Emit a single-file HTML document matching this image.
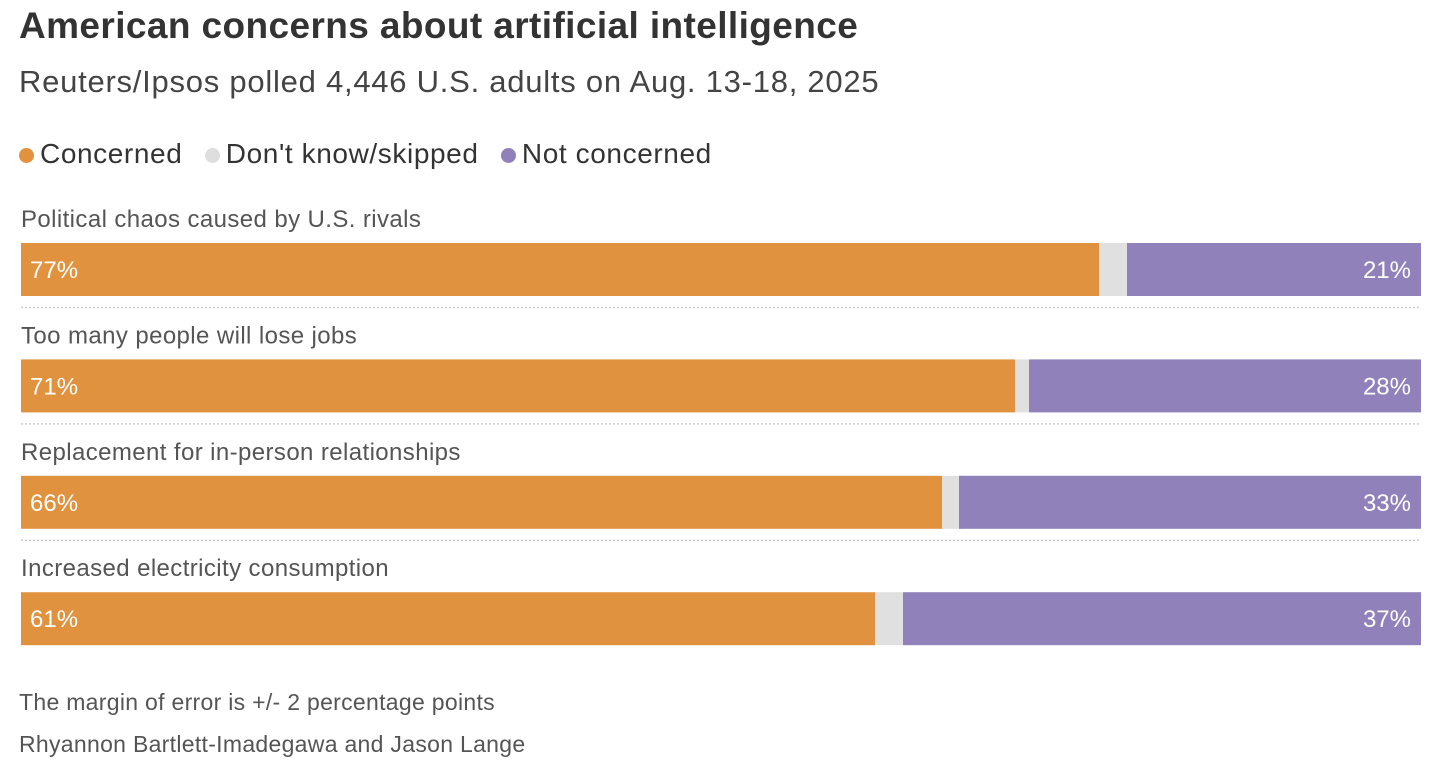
<!DOCTYPE html>
<html><head><meta charset="utf-8"><style>
body{margin:0;background:#fff;font-family:"Liberation Sans",sans-serif;}
#wrap{position:relative;width:1456px;height:770px;overflow:hidden}
.t{position:absolute;white-space:nowrap}
</style></head><body>
<div id="wrap">
<div class="t" style="left:19px;top:5px;font-size:37px;font-weight:bold;color:#333;letter-spacing:0.4px">American concerns about artificial intelligence</div>
<div class="t" style="left:19px;top:64px;font-size:31px;color:#444;letter-spacing:0.75px">Reuters/Ipsos polled 4,446 U.S. adults on Aug. 13-18, 2025</div>
<div class="t" style="left:19px;top:138px;font-size:28px;color:#333;letter-spacing:0.6px">
<span><span style="display:inline-block;width:15px;height:15px;border-radius:50%;background:#e0923e;margin-right:6px"></span>Concerned</span>
<span style="margin-left:14px"><span style="display:inline-block;width:15px;height:15px;border-radius:50%;background:#dedede;margin-right:6px"></span>Don't know/skipped</span>
<span style="margin-left:14px"><span style="display:inline-block;width:15px;height:15px;border-radius:50%;background:#9081bb;margin-right:6px"></span>Not concerned</span>
</div>
<svg id="plot" width="1456" height="770" style="position:absolute;left:0;top:0"></svg>
<div class="t" style="left:19px;top:689px;font-size:23px;color:#555;letter-spacing:0.3px">The margin of error is +/- 2 percentage points</div>
<div class="t" style="left:19px;top:731px;font-size:23px;color:#555;letter-spacing:0.3px">Rhyannon Bartlett-Imadegawa and Jason Lange</div>
</div>
<script>
const categories=["Political chaos caused by U.S. rivals","Too many people will lose jobs","Replacement for in-person relationships","Increased electricity consumption"];
const concerned=[77,71,65.8,61];
const dontKnow=[2,1,1.6,2];
const notConcerned=[21,28,33,37];
const concernedLabels=["77%","71%","66%","61%"];
const notLabels=["21%","28%","33%","37%"];
const svg=document.getElementById('plot');
const NS="http://www.w3.org/2000/svg";
const x0=21,W=1400,y0=243,step=116.4,bh=53;
const xs=v=>x0+v/100*W;
function mk(t,a){const e=document.createElementNS(NS,t);for(const k in a)e.setAttribute(k,a[k]);svg.appendChild(e);return e;}
categories.forEach((c,i)=>{
 const y=y0+i*step;
 const lab=mk('text',{x:21,y:y-16,'font-size':24,fill:'#555','letter-spacing':0.4,'font-family':'Liberation Sans, sans-serif'});lab.textContent=c;
 
 
 const a=xs(concerned[i]),b=xs(concerned[i]+dontKnow[i]),e=x0+W;
 const r1=mk('rect',{x:x0,y:y,width:a-x0,height:bh,fill:'#e0923e'});
 
 
 const r2=mk('rect',{x:a,y:y,width:b-a,height:bh,fill:'#e0e0e0'});
 
 
 const r3=mk('rect',{x:e-notConcerned[i]/100*W,y:y,width:notConcerned[i]/100*W,height:bh,fill:'#9081bb'});
 
 
 const t1=mk('text',{x:30,y:y+35,'font-size':24,fill:'#fff','font-family':'Liberation Sans, sans-serif'});t1.textContent=concernedLabels[i];
 
 
 const t2=mk('text',{x:1411,y:y+35,'font-size':24,fill:'#fff','text-anchor':'end','font-family':'Liberation Sans, sans-serif'});t2.textContent=notLabels[i];
 
 
 if(i<categories.length-1){const l=mk('line',{x1:21,x2:1421,y1:y+64.5,y2:y+64.5,stroke:'#ccc','stroke-width':1.5,'stroke-dasharray':'2,2'});
 
 }
});
</script>
</body></html>
